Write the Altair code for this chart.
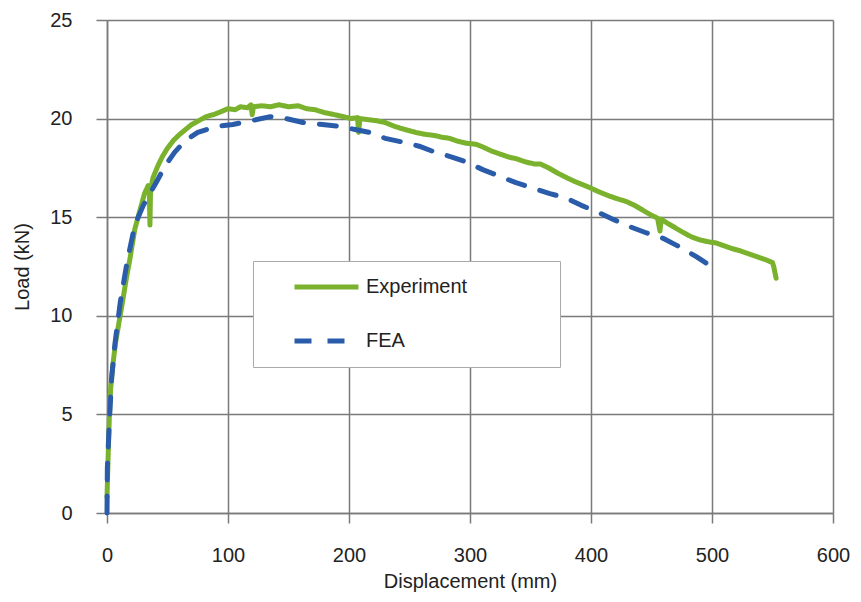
import altair as alt
import pandas as pd

# Experiment (green, noisy) : displacement (mm), load (kN)
exp_x = [0, 1, 2, 3, 5, 7, 10, 12, 16, 19, 23, 27, 31, 34, 35, 35.5, 36, 38, 42, 46,
         50, 55, 60, 64, 70, 76, 82, 88, 94, 100, 106, 110, 116, 119, 120, 121, 128, 135,
         142, 150, 158, 165, 172, 180, 188, 195, 202, 207, 208, 209, 215, 222, 230, 238,
         246, 255, 263, 270, 277, 283, 290, 297, 305, 311, 318, 325, 332, 339, 346, 353,
         358, 365, 372, 380, 387, 393, 399, 406, 414, 421, 429, 436, 443, 450, 455, 457,
         458, 463, 470, 477, 483, 490, 497, 503, 510, 517, 523, 530, 537, 544, 550, 551,
         552, 553]
exp_y = [0.8, 3.0, 5.0, 6.3, 7.6, 8.6, 9.7, 10.4, 11.9, 12.9, 14.4, 15.3, 16.2, 16.6,
         16.2, 14.6, 16.4, 17.0, 17.6, 18.1, 18.5, 18.9, 19.2, 19.4, 19.7, 19.9, 20.1,
         20.2, 20.35, 20.5, 20.45, 20.6, 20.55, 20.7, 20.2, 20.6, 20.65, 20.6, 20.7, 20.6,
         20.65, 20.5, 20.45, 20.3, 20.2, 20.1, 20.0, 20.05, 19.3, 20.0, 19.95, 19.9, 19.8,
         19.6, 19.45, 19.3, 19.2, 19.15, 19.05, 19.0, 18.85, 18.75, 18.7, 18.55, 18.35,
         18.2, 18.05, 17.95, 17.8, 17.7, 17.7, 17.5, 17.25, 17.0, 16.8, 16.65, 16.5, 16.3,
         16.1, 15.95, 15.8, 15.6, 15.35, 15.1, 14.95, 14.3, 14.9, 14.7, 14.45, 14.2, 14.0,
         13.85, 13.75, 13.7, 13.55, 13.4, 13.3, 13.15, 13.0, 12.85, 12.7, 12.5, 12.2, 11.9]

# FEA (blue dashed)
fea_x = [0, 0.3, 1.9, 3.9, 6.6, 11, 16.8, 23, 30, 41, 48, 56, 65, 75, 90, 104, 120, 135,
         148, 162, 178, 192.6, 205, 217, 230, 245, 258, 271, 285, 297, 311, 325, 338, 352,
         366, 380, 392, 404.7, 418, 432, 446, 459.5, 473, 487, 497]
fea_y = [0, 2.3, 4.6, 6.9, 8.6, 10.7, 12.8, 14.6, 15.6, 16.8, 17.6, 18.3, 18.9, 19.3,
         19.6, 19.7, 19.9, 20.1, 20.0, 19.8, 19.7, 19.6, 19.45, 19.3, 19.0, 18.8, 18.6,
         18.3, 18.05, 17.8, 17.4, 17.06, 16.75, 16.47, 16.2, 15.96, 15.6, 15.28, 14.9,
         14.52, 14.2, 13.93, 13.5, 13.0, 12.6]

series_names = ["Experiment", "FEA"]
series_colors = ["#7AB22E", "#2A5CAA"]

x_ticks = [0, 100, 200, 300, 400, 500, 600]
y_ticks = [0, 5, 10, 15, 20, 25]

df = pd.concat([
    pd.DataFrame({"x": exp_x, "y": exp_y, "series": series_names[0], "order": range(len(exp_x))}),
    pd.DataFrame({"x": fea_x, "y": fea_y, "series": series_names[1], "order": range(len(fea_x))}),
])

FONT = "Liberation Sans"
GRID = "#7a7a7a"
# invisible spacing (kept from being trimmed by a trailing zero-width space) to widen the legend box
PAD = "\u00a0" * 14 + "\u200b"

legend = alt.Legend(orient="none", legendX=146, legendY=241, labelLimit=0,
                    labelExpr="datum.label + '" + PAD + "'")

chart = alt.Chart(df).mark_line(strokeWidth=5, strokeCap="round", strokeJoin="round").encode(
    x=alt.X("x:Q", title="Displacement (mm)",
            scale=alt.Scale(domain=[0, 600], nice=False),
            axis=alt.Axis(values=x_ticks, tickSize=10, labelPadding=22, titlePadding=6,
                          labelFlush=False,
                          gridColor=GRID, gridWidth=1.5, domainColor=GRID, domainWidth=1.5,
                          tickColor=GRID, tickWidth=1.5)),
    y=alt.Y("y:Q", title="Load (kN)",
            scale=alt.Scale(domain=[0, 25], nice=False),
            axis=alt.Axis(values=y_ticks, tickSize=11, labelPadding=24, titlePadding=17,
                          labelFlush=False,
                          gridColor=GRID, gridWidth=1.5, domainColor=GRID, domainWidth=1.5,
                          tickColor=GRID, tickWidth=1.5)),
    color=alt.Color("series:N", title=None,
                    scale=alt.Scale(domain=series_names, range=series_colors),
                    legend=legend),
    strokeDash=alt.StrokeDash("series:N", title=None,
                              scale=alt.Scale(domain=series_names, range=[[1, 0], [17, 16]]),
                              legend=legend),
    order="order:Q",
).properties(
    width=726, height=493,
    autosize=alt.AutoSizeParams(type="none"),
    padding={"left": 99, "top": 12, "right": 20, "bottom": 81},
).configure_view(
    stroke=None
).configure_axis(
    labelFont=FONT, titleFont=FONT, labelFontSize=20, titleFontSize=20,
    labelColor="#222222", titleColor="#222222", titleFontWeight="normal",
).configure_legend(
    labelFont=FONT, labelFontSize=20, labelColor="#222222",
    symbolType="stroke", symbolSize=4096, symbolStrokeWidth=5,
    clipHeight=22, symbolOffset=24, labelOffset=5,
    padding=15, rowPadding=32,
    strokeColor="#aaaaaa", fillColor="white",
)

chart.save("out.html", embed_options={"renderer": "svg", "actions": False})
